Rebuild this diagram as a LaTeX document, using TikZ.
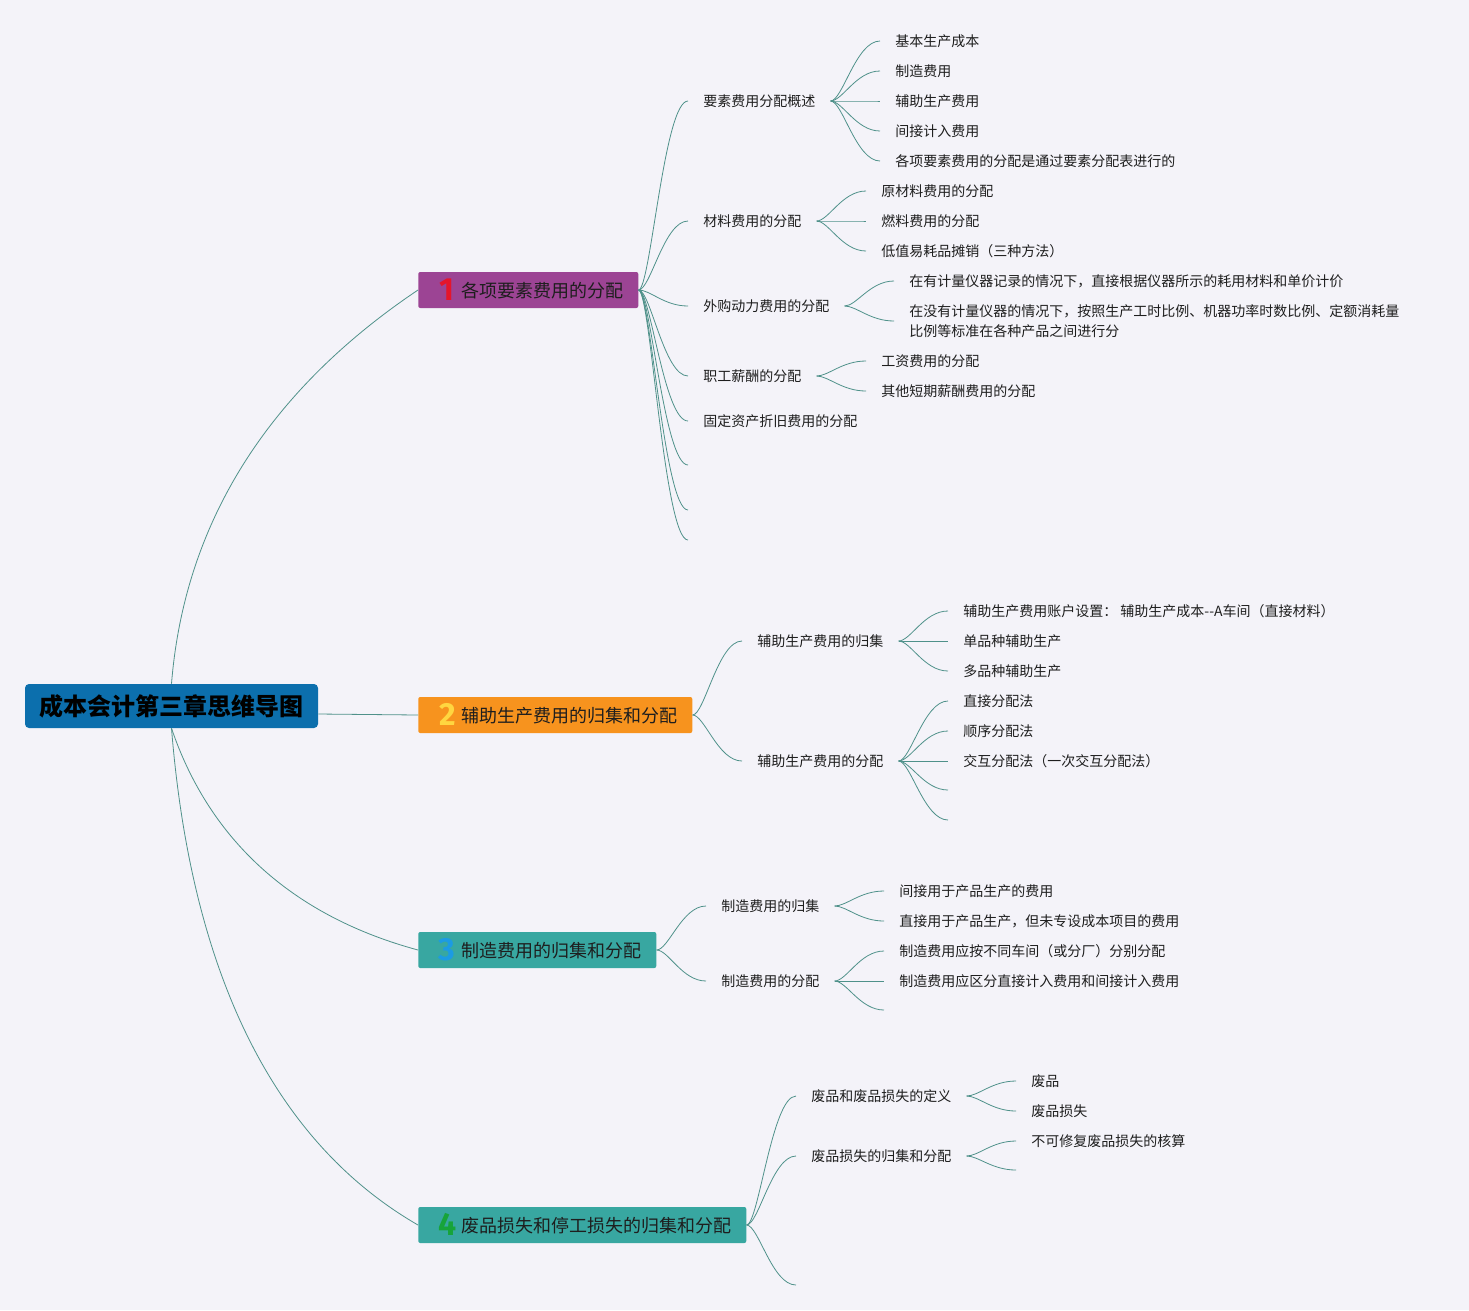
\documentclass[tikz,border=0pt]{standalone}
\usepackage{fontspec}
\setmainfont{Noto Sans CJK SC}
\newfontfamily\numfont{Fira Sans}
\definecolor{bgcol}{HTML}{F4F3F9}
\definecolor{rootcol}{HTML}{0C6FAD}
\definecolor{onecol}{HTML}{9C4494}
\definecolor{twocol}{HTML}{F7931E}
\definecolor{threecol}{HTML}{38A7A1}
\definecolor{linecol}{HTML}{4F918A}
\definecolor{textcol}{HTML}{1E1E1E}
\definecolor{redno}{HTML}{E5152B}
\definecolor{yellowno}{HTML}{FFD640}
\definecolor{blueno}{HTML}{1C9BE3}
\definecolor{greenno}{HTML}{17A43A}
\newcommand{\topicno}[2]{\makebox[21pt]{\smash{\raisebox{-1.8pt}{\color{#1}\numfont\bfseries\fontsize{24pt}{24pt}\selectfont #2}}}}

\begin{document}
\begin{tikzpicture}[
		x=0.75pt, y=-0.75pt,
		every node/.style={text=textcol},
		root/.style={fill=rootcol, rounded corners=3pt, minimum width=219.75pt, minimum height=33pt, inner sep=0pt, text=black, font=\bfseries\fontsize{18pt}{20pt}\selectfont},
		topic/.style={anchor=west, rounded corners=1.5pt, minimum height=27pt, inner xsep=11.25pt, inner ysep=0pt, text height=13pt, text depth=1.6pt, font=\fontsize{13.5pt}{16pt}\selectfont},
		sub/.style={anchor=west, inner xsep=11.25pt, inner ysep=0pt, align=left, font=\fontsize{10.5pt}{15pt}\selectfont},
		trunk/.style={draw=linecol, line width=0.6pt},
		link/.style={draw=linecol, line width=0.6pt, to path={.. controls +(12,0) and +(-24,0) .. (\tikztotarget)}}
	]
  \fill [bgcol] (0,0) rectangle (1469,1310);
  \useasboundingbox (0,0) rectangle (1469,1310);

  \node (root) [root] at (171.5, 706) {成本会计第三章思维导图};
  \node (b_1) [topic, fill=onecol] at (418, 290) {\topicno{redno}{1}各项要素费用的分配};
  \node (b_2) [topic, fill=twocol] at (418, 715) {\topicno{yellowno}{2}辅助生产费用的归集和分配};
  \node (b_3) [topic, fill=threecol] at (418, 950) {\topicno{blueno}{3}制造费用的归集和分配};
  \node (b_4) [topic, fill=threecol] at (418, 1225) {\topicno{greenno}{4}废品损失和停工损失的归集和分配};

  \node (b_1_1) [sub] at (688, 101) {要素费用分配概述};
  \node (b_1_2) [sub] at (688, 221) {材料费用的分配};
  \node (b_1_3) [sub] at (688, 306) {外购动力费用的分配};
  \node (b_1_4) [sub] at (688, 376) {职工薪酬的分配};
  \node (b_1_5) [sub] at (688, 421) {固定资产折旧费用的分配};
  \coordinate (b_1_6) at (688, 465);
  \coordinate (b_1_7) at (688, 510);
  \coordinate (b_1_8) at (688, 540);

  \node (b_1_1_1) [sub] at (880, 41) {基本生产成本};
  \node (b_1_1_2) [sub] at (880, 71) {制造费用};
  \node (b_1_1_3) [sub] at (880, 101) {辅助生产费用};
  \node (b_1_1_4) [sub] at (880, 131) {间接计入费用};
  \node (b_1_1_5) [sub] at (880, 161) {各项要素费用的分配是通过要素分配表进行的};
  \node (b_1_2_1) [sub] at (866, 191) {原材料费用的分配};
  \node (b_1_2_2) [sub] at (866, 221) {燃料费用的分配};
  \node (b_1_2_3) [sub] at (866, 251) {低值易耗品摊销（三种方法）};
  \node (b_1_3_1) [sub] at (894, 281) {在有计量仪器记录的情况下，直接根据仪器所示的耗用材料和单价计价};
  \node (b_1_3_2) [sub] at (894, 321) {在没有计量仪器的情况下，按照生产工时比例、机器功率时数比例、定额消耗量\\比例等标准在各种产品之间进行分};
  \node (b_1_4_1) [sub] at (866, 361) {工资费用的分配};
  \node (b_1_4_2) [sub] at (866, 391) {其他短期薪酬费用的分配};

  \node (b_2_1) [sub] at (742, 641) {辅助生产费用的归集};
  \node (b_2_2) [sub] at (742, 761) {辅助生产费用的分配};
  \node (b_2_1_1) [sub] at (948, 611) {辅助生产费用账户设置： 辅助生产成本-\kern0pt-A车间（直接材料）};
  \node (b_2_1_2) [sub] at (948, 641) {单品种辅助生产};
  \node (b_2_1_3) [sub] at (948, 671) {多品种辅助生产};
  \node (b_2_2_1) [sub] at (948, 701) {直接分配法};
  \node (b_2_2_2) [sub] at (948, 731) {顺序分配法};
  \node (b_2_2_3) [sub] at (948, 761) {交互分配法（一次交互分配法）};
  \coordinate (b_2_2_4) at (948, 790);
  \coordinate (b_2_2_5) at (948, 820);

  \node (b_3_1) [sub] at (706, 906) {制造费用的归集};
  \node (b_3_2) [sub] at (706, 981) {制造费用的分配};
  \node (b_3_1_1) [sub] at (884, 891) {间接用于产品生产的费用};
  \node (b_3_1_2) [sub] at (884, 921) {直接用于产品生产，但未专设成本项目的费用};
  \node (b_3_2_1) [sub] at (884, 951) {制造费用应按不同车间（或分厂）分别分配};
  \node (b_3_2_2) [sub] at (884, 981) {制造费用应区分直接计入费用和间接计入费用};
  \coordinate (b_3_2_3) at (884, 1010);

  \node (b_4_1) [sub] at (796, 1096) {废品和废品损失的定义};
  \node (b_4_2) [sub] at (796, 1156) {废品损失的归集和分配};
  \coordinate (b_4_3) at (796, 1285);
  \node (b_4_1_1) [sub] at (1016, 1081) {废品};
  \node (b_4_1_2) [sub] at (1016, 1111) {废品损失};
  \node (b_4_2_1) [sub] at (1016, 1141) {不可修复废品损失的核算};
  \coordinate (b_4_2_2) at (1016, 1170);

  \draw [trunk] (root.north) .. controls +(13,-162) and +(-149,100) .. (b_1.west);
  \draw [trunk] ([yshift=-6pt]root.east) -- (b_2.west);
  \draw [trunk] (root.south) .. controls +(39,115) and +(-122,-33) .. (b_3.west);
  \draw [trunk] (root.south) .. controls +(20,249) and +(-142,-82) .. (b_4.west);

  \draw [link] (b_1.east) to (b_1_1.west);
  \draw [link] (b_1.east) to (b_1_2.west);
  \draw [link] (b_1.east) to (b_1_3.west);
  \draw [link] (b_1.east) to (b_1_4.west);
  \draw [link] (b_1.east) to (b_1_5.west);
  \draw [link] (b_1.east) to (b_1_6);
  \draw [link] (b_1.east) to (b_1_7);
  \draw [link] (b_1.east) to (b_1_8);
  \draw [link] (b_1_1.east) to (b_1_1_1.west);
  \draw [link] (b_1_1.east) to (b_1_1_2.west);
  \draw [link] (b_1_1.east) to (b_1_1_3.west);
  \draw [link] (b_1_1.east) to (b_1_1_4.west);
  \draw [link] (b_1_1.east) to (b_1_1_5.west);
  \draw [link] (b_1_2.east) to (b_1_2_1.west);
  \draw [link] (b_1_2.east) to (b_1_2_2.west);
  \draw [link] (b_1_2.east) to (b_1_2_3.west);
  \draw [link] (b_1_3.east) to (b_1_3_1.west);
  \draw [link] (b_1_3.east) to (b_1_3_2.west);
  \draw [link] (b_1_4.east) to (b_1_4_1.west);
  \draw [link] (b_1_4.east) to (b_1_4_2.west);

  \draw [link] (b_2.east) to (b_2_1.west);
  \draw [link] (b_2.east) to (b_2_2.west);
  \draw [link] (b_2_1.east) to (b_2_1_1.west);
  \draw [link] (b_2_1.east) to (b_2_1_2.west);
  \draw [link] (b_2_1.east) to (b_2_1_3.west);
  \draw [link] (b_2_2.east) to (b_2_2_1.west);
  \draw [link] (b_2_2.east) to (b_2_2_2.west);
  \draw [link] (b_2_2.east) to (b_2_2_3.west);
  \draw [link] (b_2_2.east) to (b_2_2_4);
  \draw [link] (b_2_2.east) to (b_2_2_5);

  \draw [link] (b_3.east) to (b_3_1.west);
  \draw [link] (b_3.east) to (b_3_2.west);
  \draw [link] (b_3_1.east) to (b_3_1_1.west);
  \draw [link] (b_3_1.east) to (b_3_1_2.west);
  \draw [link] (b_3_2.east) to (b_3_2_1.west);
  \draw [link] (b_3_2.east) to (b_3_2_2.west);
  \draw [link] (b_3_2.east) to (b_3_2_3);

  \draw [link] (b_4.east) to (b_4_1.west);
  \draw [link] (b_4.east) to (b_4_2.west);
  \draw [link] (b_4.east) to (b_4_3);
  \draw [link] (b_4_1.east) to (b_4_1_1.west);
  \draw [link] (b_4_1.east) to (b_4_1_2.west);
  \draw [link] (b_4_2.east) to (b_4_2_1.west);
  \draw [link] (b_4_2.east) to (b_4_2_2);
\end{tikzpicture}
\end{document}
